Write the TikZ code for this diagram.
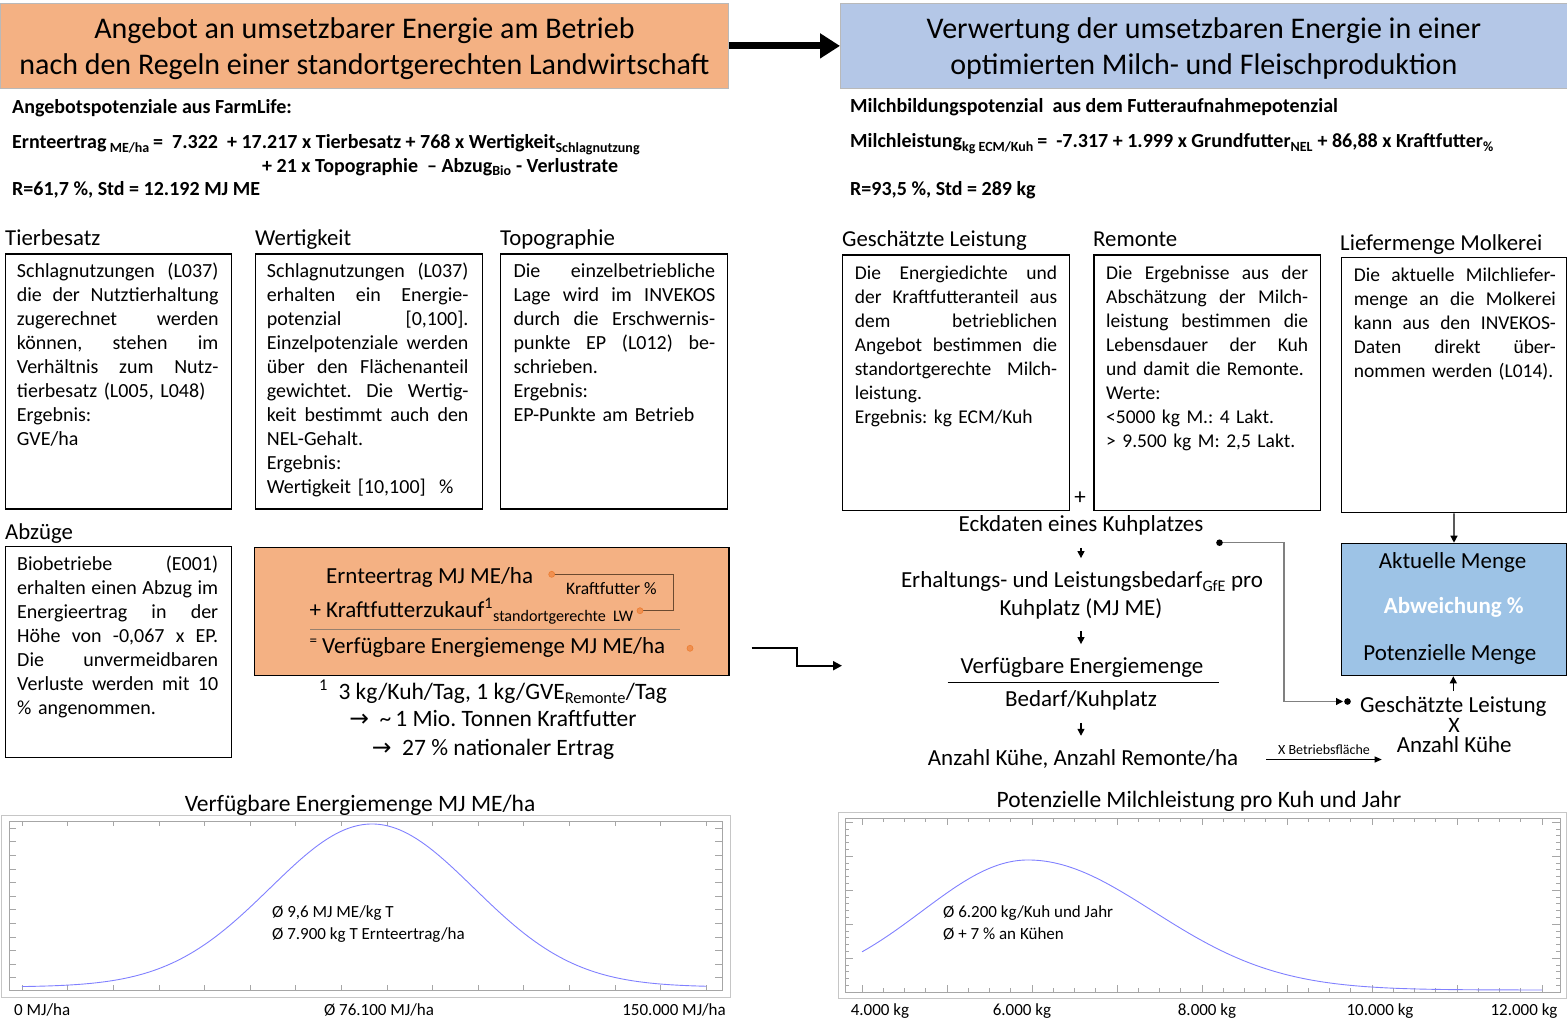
\documentclass[tikz,border=0pt]{standalone}
\usepackage{fontspec}
\setmainfont{Carlito}
\newfontfamily\dejavu{DejaVu Sans}
\usetikzlibrary{arrows.meta,calc}
\definecolor{orT}{HTML}{F4B183}
\definecolor{blT}{HTML}{B4C7E7}
\definecolor{blB}{HTML}{9DC3E6}
\definecolor{dotC}{HTML}{ED7D31}
\definecolor{curveC}{HTML}{8080FF}
\definecolor{brn}{HTML}{6B4A30}
\newcommand{\fsz}[2]{\fontsize{#1}{#2}\selectfont}
\newcommand{\jus}[1]{{\spaceskip=0.226em plus 6em minus 0.05em\makebox[\hsize][s]{#1}}}
\newcommand{\lef}[1]{\makebox[\hsize][l]{#1}}
\frenchspacing
\begin{document}
\begin{tikzpicture}[x=1pt,y=-1pt,
  every node/.style={inner sep=0pt},
  ttl/.style={draw=gray!55, line width=0.8pt, anchor=north west, minimum height=85pt},
  ttt/.style={align=center, font=\fsz{30}{36}},
  hd/.style={anchor=base west, font=\fsz{22.8}{26}},
  bx/.style={draw=black, line width=1.3pt, anchor=north west},
  tx/.style={anchor=north west, text width=#1, align=left, font=\fsz{20}{24}\frenchspacing},
  txr/.style={anchor=north west, text width=#1, align=left, font=\fsz{19.5}{24}\frenchspacing},
  fm/.style={anchor=base west, font=\fsz{20}{24}\bfseries},
  fl/.style={anchor=base, font=\fsz{23}{27}, text height=16pt, text depth=5pt},
  arr/.style={line width=1.3pt, -{Triangle[length=7pt,width=7pt]}, shorten <=11pt, shorten >=13pt},
  odot/.style={draw=dotC, fill=dotC!85, line width=0.6pt},
  tk/.style={gray!70, line width=0.6pt},
  ct/.style={anchor=base, font=\fsz{17}{20}},
  ca/.style={anchor=base west, font=\fsz{17}{20}}
]
\useasboundingbox (0,0) rectangle (1567,1022);

% titles
\node[ttl, fill=orT, minimum width=728pt] (tl) at (0,3) {};
\node[ttt] (tlt) at ($(tl.center)+(0,2.5)$) {Angebot an umsetzbarer Energie am Betrieb\\nach den Regeln einer standortgerechten Landwirtschaft};
\node[ttl, fill=blT, minimum width=727pt] (tr) at (840,3) {};
\node[ttt] (trt) at ($(tr.center)+(0,2.5)$) {Verwertung der umsetzbaren Energie in einer\\optimierten Milch- und Fleischproduktion};
\draw[line width=7pt, -{Triangle[length=20pt,width=24pt]}] (tl.east) -- (tr.west);

% formulas left
\node[fm] (fl1) at (12,114) {Angebotspotenziale aus FarmLife:};
\node[fm] (fl2) at (12,149) {Ernteertrag\,\textsubscript{ME/ha}\,=\ \ 7.322\ \ + 17.217 x Tierbesatz + 768 x Wertigkeit\textsubscript{Schlagnutzung}};
\node[fm] (fl3) at (262,172) {+ 21 x Topographie\ \ – Abzug\textsubscript{Bio} - Verlustrate};
\node[fm] (fl4) at (12,196) {R=61,7 \%, Std = 12.192 MJ ME};
% formulas right
\node[fm] (fr1) at (850,113) {Milchbildungspotenzial\ \ aus dem Futteraufnahmepotenzial};
\node[fm] (fr2) at (850,148) {Milchleistung\textsubscript{kg ECM/Kuh}\,=\ \ -7.317 + 1.999 x Grundfutter\textsubscript{NEL} + 86,88 x Kraftfutter\textsubscript{\%}};
\node[fm] (fr3) at (850,196) {R=93,5 \%, Std = 289 kg};

% headings
\node[hd] (h1) at (5,245.7) {Tierbesatz};
\node[hd] (h2) at (255,245.7) {Wertigkeit};
\node[hd] (h3) at (500,245.7) {Topographie};
\node[hd] (h4) at (5,539) {Abzüge};
\node[hd] (h5) at (842,246.7) {Geschätzte Leistung};
\node[hd] (h6) at (1093,246.7) {Remonte};
\node[hd] (h7) at (1340,250) {Liefermenge Molkerei};

% boxes
\node[bx, minimum width=226.2pt, minimum height=255pt] (b1) at (4.5,253.3) {};
\node[bx, minimum width=227pt, minimum height=255pt] (b2) at (255,253.3) {};
\node[bx, minimum width=226.7pt, minimum height=255pt] (b3) at (500,253.3) {};
\node[bx, minimum width=226.2pt, minimum height=211pt] (b4) at (4.5,545.7) {};
\node[bx, minimum width=226.6pt, minimum height=255.7pt] (b5) at (842,254.3) {};
\node[bx, minimum width=226.2pt, minimum height=255.7pt] (b6) at (1093.4,254.3) {};
\node[bx, minimum width=225.4pt, minimum height=255.3pt] (b7) at (1340.6,256.7) {};

% box texts
\node[tx=201.6pt] (t1) at (16.7,260.9) {\strut\jus{Schlagnutzungen (L037)}\\
\jus{die der Nutztierhaltung}\\
\jus{zugerechnet werden}\\
\jus{können, stehen im}\\
\jus{Verhältnis zum Nutz-}\\
\lef{tierbesatz (L005, L048)}\\
\lef{Ergebnis:}\\
\lef{GVE/ha}};
\node[tx=201.6pt] (t2) at (266.7,260.9) {\strut\jus{Schlagnutzungen (L037)}\\
\jus{erhalten ein Energie-}\\
\jus{potenzial [0,100].}\\
\jus{Einzelpotenziale werden}\\
\jus{über den Flächenanteil}\\
\jus{gewichtet. Die Wertig-}\\
\jus{keit bestimmt auch den}\\
\lef{NEL-Gehalt.}\\
\lef{Ergebnis:}\\
\lef{Wertigkeit [10,100]\ \ \%}};
\node[tx=201.7pt] (t3) at (513.3,260.9) {\strut\jus{Die einzelbetriebliche}\\
\jus{Lage wird im INVEKOS}\\
\jus{durch die Erschwernis-}\\
\jus{punkte EP (L012) be-}\\
\lef{schrieben.}\\
\lef{Ergebnis:}\\
\lef{EP-Punkte am Betrieb}};
\node[tx=201pt] (t4) at (17,553.2) {\strut\jus{Biobetriebe (E001)}\\
\jus{erhalten einen Abzug im}\\
\jus{Energieertrag in der}\\
\jus{Höhe von -0,067 x EP.}\\
\jus{Die unvermeidbaren}\\
\jus{Verluste werden mit 10}\\
\lef{\% angenommen.}};
\node[txr=202.4pt] (t5) at (854.6,262.2) {\strut\jus{Die Energiedichte und}\\
\jus{der Kraftfutteranteil aus}\\
\jus{dem betrieblichen}\\
\jus{Angebot bestimmen die}\\
\jus{standortgerechte Milch-}\\
\lef{leistung.}\\
\lef{Ergebnis: kg ECM/Kuh}};
\node[txr=202pt] (t6) at (1106,262.2) {\strut\jus{Die Ergebnisse aus der}\\
\jus{Abschätzung der Milch-}\\
\jus{leistung bestimmen die}\\
\jus{Lebensdauer der Kuh}\\
\lef{und damit die Remonte.}\\
\lef{Werte:}\\
\lef{<5000 kg M.: 4 Lakt.}\\
\lef{> 9.500 kg M: 2,5 Lakt.}};
\node[txr=202pt] (t7) at (1353.7,264.2) {\strut\jus{Die aktuelle Milchliefer-}\\
\jus{menge an die Molkerei}\\
\jus{kann aus den INVEKOS-}\\
\jus{Daten direkt über-}\\
\lef{nommen werden (L014).}};

\node[font=\fsz{23}{26}] (plus) at (1080,498) {+};

% orange box
\node[bx, fill=orT, minimum width=474.3pt, minimum height=128.3pt] (ob) at (254,546.7) {};
\node[anchor=base west, font=\fsz{23}{27}] (oe1) at (326,583.3) {Ernteertrag MJ ME/ha};
\node[anchor=base west, font=\fsz{23}{27}] (oe2) at (309.3,617.3) {+ Kraftfutterzukauf\textsuperscript{1}\textsubscript{standortgerechte\ \ LW}};
\node[anchor=base west, font=\fsz{23}{27}] (oe3) at (309.3,653.3) {\raisebox{0.35em}{\fsz{15}{17}=}\ Verfügbare Energiemenge MJ ME/ha};
\node[anchor=base west, font=\fsz{17.5}{20}] (kf) at (566,594.3) {Kraftfutter \%};
\coordinate (d1) at (551.7,574.3);
\coordinate (d2) at (640,610.7);
\coordinate (d3) at (690,648.3);
\draw[brn, line width=0.9pt] (d1) -- ++(121.6,0) |- (d2);
\draw[brn!70, line width=1pt] (310,629.3) -- (680,629.3);
\foreach \d in {d1,d2,d3} \draw[odot] (\d) circle (3);

% footnote
\node[anchor=base, font=\fsz{23.5}{27}] (fn1) at (493,699.3) {\textsuperscript{1}\ \ 3 kg/Kuh/Tag, 1 kg/GVE\textsubscript{Remonte}/Tag};
\node[anchor=base, font=\fsz{23.5}{27}] (fn2) at (493,726.7) {{\dejavu →}\ \ \textasciitilde\,1 Mio. Tonnen Kraftfutter};
\node[anchor=base, font=\fsz{23.5}{27}] (fn3) at (493,755) {{\dejavu →}\ \ 27 \% nationaler Ertrag};

% step connector
\coordinate (s0) at (751.5,648.3);
\coordinate (s1) at (842,665.7);
\draw[line width=2pt, -{Triangle[length=9pt,width=9pt]}] (s0) -- (796.5,648.3) -- (796.5,665.7) -- (s1);

% flow
\node[fl] (n1) at (1081,531.7) {Eckdaten eines Kuhplatzes};
\node[fl] (n2a) at (1082,587.3) {Erhaltungs- und Leistungsbedarf\textsubscript{GfE} pro};
\node[fl] (n2b) at (1081,615) {Kuhplatz (MJ ME)};
\node[fl] (n3) at (1082,673.3) {Verfügbare Energiemenge};
\node[fl] (n4) at (1081,706.7) {Bedarf/Kuhplatz};
\node[fl] (n5) at (1083,765) {Anzahl Kühe, Anzahl Remonte/ha};
\draw[line width=1pt] (947.7,682.3) -- (1218.8,682.3);
\draw[arr] (n1.south) -- (n1.south |- n2a.north);
\draw[arr] (n2b.south) -- (n2b.south |- n3.north);
\draw[arr] (n4.south) -- (n4.south |- n5.north);

% gray connector
\coordinate (gs) at (1219.5,542.7);
\coordinate (ge) at (1343,701.5);
\coordinate (gd) at (1347.5,701.5);
\draw[gray, line width=1.2pt, -{Triangle[length=7pt,width=7pt,color=black]}] (gs) -- ++(64.5,0) |- (ge);
\fill (gs) circle (3.3);
\fill (gd) circle (3.3);

% blue box
\node[bx, fill=blB, minimum width=225.3pt, minimum height=132.3pt] (bb) at (1340.7,542.7) {};
\node[fl] (am) at (1452.5,568.3) {Aktuelle Menge};
\node[fl, text=white, font=\fsz{23}{27}\bfseries] (ab) at (1453.8,613.3) {Abweichung \%};
\node[fl] (pm) at (1449.8,660) {Potenzielle Menge};
\node[fl] (gl) at (1453.3,712.3) {Geschätzte Leistung};
\node[anchor=base, font=\fsz{22}{26}] (xx) at (1454,732.3) {X};
\node[anchor=base, font=\fsz{23}{27}] (ak) at (1454.2,752.7) {Anzahl Kühe};
\draw[line width=1.3pt, -{Triangle[length=7pt,width=7pt]}] (b7.south) -- (bb.north);
\draw[line width=1.3pt, -{Triangle[length=7pt,width=7pt]}, shorten <=5pt] (gl.north) -- (gl.north |- bb.south);

% X Betriebsflaeche
\coordinate (xa) at (1266,759.5);
\coordinate (xb) at (1381.7,759.5);
\draw[line width=0.9pt, -{Triangle[length=7pt,width=6pt]}] (xa) -- (xb);
\node[anchor=base, font=\fsz{14}{16}] (xbl) at (1324,754) {X Betriebsfläche};

% left chart
\node[anchor=base, font=\fsz{23.5}{27}] (c1t) at (360,811) {Verfügbare Energiemenge MJ ME/ha};
\draw[gray!45, line width=1pt] (1,815) rectangle (730,997);
\draw[gray!70, line width=0.8pt] (9,821) rectangle (722,990);
\foreach \i in {0,...,15} {
  \draw[tk] ({22+45.6*\i},990) -- ++(0,-5);
  \draw[tk] ({22+45.6*\i},821) -- ++(0,5);
}
\foreach \j in {0,...,11} {
  \draw[tk] (9,{828+13.6*\j}) -- ++(7,0);
  \draw[tk] (722,{828+13.6*\j}) -- ++(-7,0);
}
\draw[curveC, line width=0.9pt] plot[domain=22:706, samples=160, smooth] (\x, {987-163*exp(-0.5*((\x-372)/102)^2)});
\node[ca] (c1a) at (272,917) {Ø 9,6 MJ ME/kg T};
\node[ca] (c1b) at (272,939) {Ø 7.900 kg T Ernteertrag/ha};
\node[anchor=base west, font=\fsz{17}{20}] (c1l) at (14,1015) {0 MJ/ha};
\node[ct] (c1m) at (379,1015) {Ø 76.100 MJ/ha};
\node[anchor=base east, font=\fsz{17}{20}] (c1r) at (726,1015) {150.000 MJ/ha};

% right chart
\node[anchor=base, font=\fsz{23.5}{27}] (c2t) at (1199,807) {Potenzielle Milchleistung pro Kuh und Jahr};
\draw[gray!45, line width=1pt] (838,812) rectangle (1566,998);
\draw[gray!70, line width=0.8pt] (845,818) rectangle (1560,992);
\foreach \i in {0,...,32} {
  \draw[tk] ({862+21.25*\i},992) -- ++(0,-4);
  \draw[tk] ({862+21.25*\i},818) -- ++(0,4);
}
\foreach \i in {0,...,8} {
  \draw[tk] ({862+85*\i},992) -- ++(0,-7);
  \draw[tk] ({862+85*\i},818) -- ++(0,7);
}
\foreach \j in {0,...,24} {
  \draw[tk] (845,{822+6.8*\j}) -- ++(4,0);
  \draw[tk] (1560,{822+6.8*\j}) -- ++(-4,0);
}
\foreach \j in {0,...,4} {
  \draw[tk] (845,{822+34*\j}) -- ++(8,0);
  \draw[tk] (1560,{822+34*\j}) -- ++(-8,0);
}
\draw[curveC, line width=0.9pt] plot[domain=862:1028, samples=60, smooth] (\x, {990-130*exp(-0.5*((\x-1028)/106)^2)});
\draw[curveC, line width=0.9pt] plot[domain=1028:1542, samples=140, smooth] (\x, {990-130*exp(-0.5*((\x-1028)/125)^2)});
\node[ca] (c2a) at (943,917) {Ø 6.200 kg/Kuh und Jahr};
\node[ca] (c2b) at (943,939) {Ø + 7 \% an Kühen};
\node[ct] (c2l1) at (880,1015) {4.000 kg};
\node[ct] (c2l2) at (1022,1015) {6.000 kg};
\node[ct] (c2l3) at (1207,1015) {8.000 kg};
\node[ct] (c2l4) at (1380,1015) {10.000 kg};
\node[ct] (c2l5) at (1524,1015) {12.000 kg};
\end{tikzpicture}
\end{document}
